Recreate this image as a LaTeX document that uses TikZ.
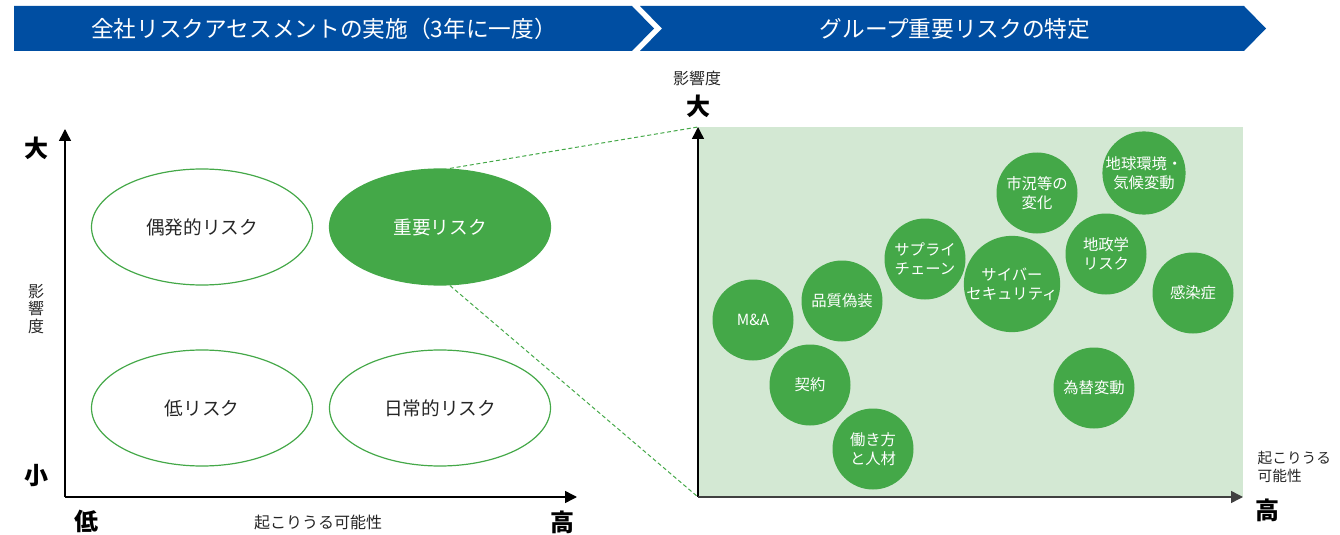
\documentclass[tikz,border=0pt]{standalone}
\usepackage{fontspec}
\setmainfont{Noto Sans CJK JP}
\usetikzlibrary{arrows.meta,positioning,shapes.geometric}
\definecolor{hdblue}{RGB}{0,78,162}
\definecolor{riskgreen}{RGB}{68,168,72}
\definecolor{panelgreen}{RGB}{211,232,211}
\definecolor{axisgray}{RGB}{64,64,64}

\begin{document}
\begin{tikzpicture}[
    x=0.75pt, y=-0.75pt,
    band/.style={text=white, font=\fontsize{17}{19}\selectfont},
    risk/.style={ellipse, draw=riskgreen, line width=0.9pt,
      minimum width=165.75pt, minimum height=87pt,
      font=\fontsize{14}{16}\selectfont, text=black!85},
    keyrisk/.style={risk, fill=riskgreen, text=white},
    bubble/.style={circle, fill=riskgreen, minimum size=60.75pt, inner sep=0pt,
      align=center, text=white, font=\fontsize{11.5}{14}\selectfont},
    axis/.style={line width=1.1pt, -{Triangle[length=9pt,width=9pt]}},
    zoomline/.style={riskgreen, line width=0.75pt, dash pattern=on 3pt off 2pt},
    big/.style={font=\fontsize{18}{20}\selectfont\bfseries},
    lbl/.style={font=\fontsize{12}{13}\selectfont, text=black!85, align=center}
  ]
  \useasboundingbox (0,0) rectangle (1340,535);

  % header bands
  \fill[hdblue] (14,6) -- (632,6) -- (654,28.5) -- (632,51) -- (14,51) -- cycle;
  \fill[hdblue] (640,6) -- (1244,6) -- (1266,28.5) -- (1244,51) -- (640,51) -- (662,28.5) -- cycle;
  \node[band] (hdA) at (324,28.5) {全社リスクアセスメントの実施（3年に一度）};
  \node[band] (hdB) at (955,28.5) {グループ重要リスクの特定};

  % left matrix
  \coordinate (o1) at (65,497);
  \coordinate (y1) at (65,129);
  \coordinate (x1) at (577,497);
  \draw[axis] (o1) -- (y1);
  \draw[axis] (o1) -- (x1);
  \node[big] (hiL) at (37,148) {大};
  \node[big] (loL) at (37,476) {小};
  \node[big] (lowL) at (86,521) {低};
  \node[big] (highL) at (562,522) {高};
  \node[lbl] (impL) at (36,309) {影\\響\\度};
  \node[lbl] (probL) at (318,522) {起こりうる可能性};

  \node[risk] (acc) at (202,227) {偶発的リスク};
  \node[keyrisk] (key) at (440,227) {重要リスク};
  \node[risk] (low) at (202,408) {低リスク};
  \node[risk] (dly) at (440,408) {日常的リスク};

  % right map
  \coordinate (o2) at (698,497);
  \coordinate (y2) at (698,127);
  \coordinate (x2) at (1243,497);
  \fill[panelgreen] (y2) rectangle (x2);
  \draw[zoomline] ([xshift=7.5pt]key.north) -- (y2);
  \draw[zoomline] ([xshift=7.5pt]key.south) -- (o2);
  \draw[axis] (o2) -- (y2);
  \draw[axis, axisgray] (o2) -- (x2);
  \node[lbl] (impR) at (697,78) {影響度};
  \node[big] (hiR) at (698,106) {大};
  \node[lbl, font=\fontsize{11}{13}\selectfont, anchor=west, align=left] (probR) at (1253,467) {起こりうる\\可能性};
  \node[big] (highR) at (1267,510) {高};

  \node[bubble] (bClimate) at (1144,173) {地球環境・\\気候変動};
  \node[bubble] (bMarket) at (1037,193) {市況等の\\変化};
  \node[bubble] (bSupply) at (925,259) {サプライ\\チェーン};
  \node[bubble] (bGeo) at (1106,254) {地政学\\リスク};
  \node[bubble] (bCyber) at (1012,284) {サイバー\\セキュリティ};
  \node[bubble] (bInfect) at (1193,293) {感染症};
  \node[bubble] (bQual) at (842,301) {品質偽装};
  \node[bubble] (bMA) at (753,320) {M\&A};
  \node[bubble] (bContract) at (810,385) {契約};
  \node[bubble] (bFX) at (1094,388) {為替変動};
  \node[bubble] (bWork) at (873,449) {働き方\\と人材};
\end{tikzpicture}
\end{document}
